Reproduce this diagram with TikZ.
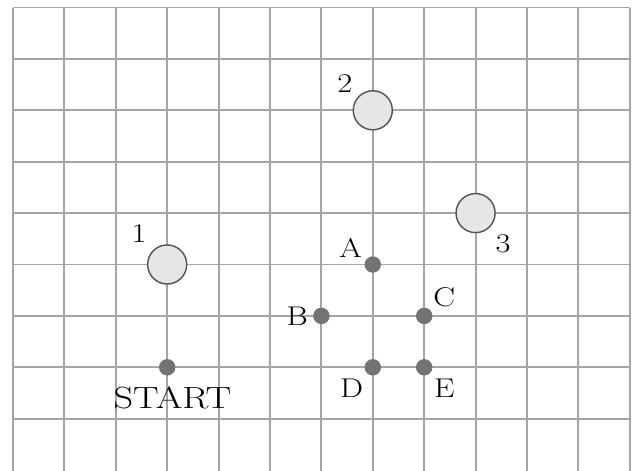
\documentclass[tikz,border=0pt]{standalone}
\usepackage{graphicx}
\usetikzlibrary{calc}
\definecolor{gridc}{RGB}{165,165,165}
\definecolor{ringc}{RGB}{85,85,85}
\definecolor{fillc}{RGB}{230,230,230}
\definecolor{dotc}{RGB}{115,115,115}
\tikzset{
  gridline/.style={draw=gridc,line width=1.1pt},
  bigcircle/.style={circle,draw=ringc,fill=fillc,line width=0.8pt,minimum size=0.76cm,inner sep=0pt},
  smalldot/.style={circle,fill=dotc,minimum size=0.32cm,inner sep=0pt},
  lbl/.style={inner sep=0pt,font=\fontsize{15}{17}\selectfont},
  startlbl/.style={inner sep=0pt,font=\fontsize{17}{19}\selectfont}
}
\newcommand{\wide}[1]{\scalebox{1.2}[1]{#1}}
\newcommand{\wider}[1]{\scalebox{1.25}[1]{#1}}
\begin{document}
\begin{tikzpicture}
\useasboundingbox (-0.253,0) rectangle (12.043,9.146);
\clip (-0.253,0) rectangle (12.043,9.146);
\fill[white] (-0.253,0) rectangle (12.043,9.146);
\foreach \x in {0,...,12} \draw[gridline] (\x,-0.2) -- (\x,9);
\foreach \y in {1,...,9} \draw[gridline] (0,\y) -- (12,\y);
% big circles
\node[bigcircle] (c1) at (3,4) {};
\node[bigcircle] (c2) at (7,7) {};
\node[bigcircle] (c3) at (9,5) {};
% dots
\node[smalldot] (s) at (3,2) {};
\node[smalldot] (a) at (7,4) {};
\node[smalldot] (b) at (6,3) {};
\node[smalldot] (c) at (8,3) {};
\node[smalldot] (d) at (7,2) {};
\node[smalldot] (e) at (8,2) {};
% labels
\node[lbl] (l1) at ($(c1)+(-0.545,0.60)$) {\wide{1}};
\node[lbl] (l2) at ($(c2)+(-0.545,0.525)$) {\wide{2}};
\node[lbl] (l3) at ($(c3)+(0.535,-0.60)$) {\wide{3}};
\node[lbl] (la) at ($(a)+(-0.43,0.33)$) {\wide{A}};
\node[lbl] (lb) at ($(b)+(-0.47,0)$) {\wide{B}};
\node[lbl] (lc) at ($(c)+(0.39,0.37)$) {\wide{C}};
\node[lbl] (ld) at ($(d)+(-0.41,-0.41)$) {\wide{D}};
\node[lbl] (le) at ($(e)+(0.39,-0.41)$) {\wide{E}};
\node[startlbl] (ls) at ($(s)+(0.1,-0.6)$) {\wider{START}};
\end{tikzpicture}
\end{document}
